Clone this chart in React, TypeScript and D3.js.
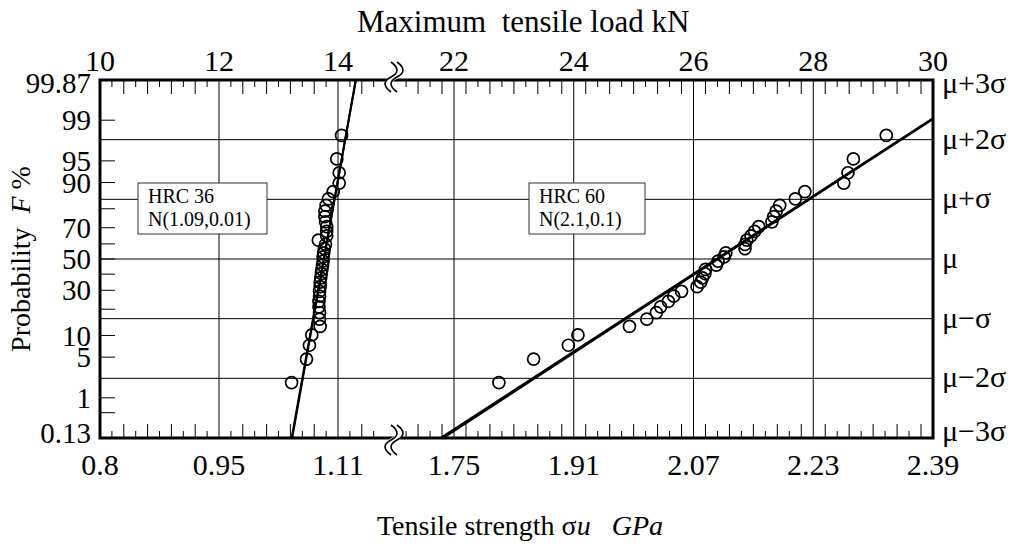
import React from 'react';
import * as d3 from 'd3';

// ---------- data ----------
const topTickValues = [10, 12, 14, 22, 24, 26, 28, 30]; // maximum tensile load, kN
const topTickLabels = ['10', '12', '14', '22', '24', '26', '28', '30'];
const bottomTickLabels = ['0.8', '0.95', '1.11', '1.75', '1.91', '2.07', '2.23', '2.39']; // GPa
const probLabelValues = [99.87, 99, 95, 90, 70, 50, 30, 10, 5, 1, 0.13];
const probLabelText = ['99.87', '99', '95', '90', '70', '50', '30', '10', '5', '1', '0.13'];
const probTickValues = [99, 95, 90, 80, 70, 60, 50, 40, 30, 20, 10, 5, 1, 0.5];
const sigmaLevels = [3, 2, 1, 0, -1, -2, -3];
const sigmaLabels = ['μ+3σ', 'μ+2σ', 'μ+σ', 'μ', 'μ−σ', 'μ−2σ', 'μ−3σ'];

// cumulative probability F % of each ranked specimen
const probabilityF = [1.92, 4.67, 7.42, 10.16, 12.91, 15.66, 18.41, 21.15, 23.9, 26.65, 29.4, 32.14,
  34.89, 37.64, 40.38, 43.13, 45.88, 48.63, 51.37, 54.12, 56.87, 59.62, 62.36, 65.11,
  67.86, 70.6, 73.35, 76.1, 78.85, 81.59, 84.34, 87.09, 89.84, 92.58, 95.33, 98.08];

// maximum tensile load (kN) of HRC 36 specimens
const hrc36Load = [13.22, 13.47, 13.52, 13.56, 13.70, 13.69, 13.69, 13.68, 13.68, 13.69, 13.69, 13.70,
  13.70, 13.71, 13.72, 13.73, 13.74, 13.75, 13.75, 13.76, 13.77, 13.79, 13.67, 13.81,
  13.81, 13.81, 13.79, 13.78, 13.78, 13.80, 13.84, 13.92, 14.02, 14.02, 13.98, 14.06];

// maximum tensile load (kN) of HRC 60 specimens
const hrc60Load = [22.75, 23.33, 23.91, 24.07, 24.93, 25.22, 25.38, 25.45, 25.58, 25.67, 25.80, 26.06,
  26.12, 26.15, 26.19, 26.20, 26.38, 26.41, 26.51, 26.54, 26.86, 26.86, 26.89, 26.96,
  27.02, 27.09, 27.31, 27.34, 27.38, 27.44, 27.70, 27.86, 28.51, 28.58, 28.67, 29.22];

// fitted normal lines (kN): mean, standard deviation
const hrc36FitMean = [13.76, 13.765];
const hrc36FitSd = [0.18, 0.178];
const hrc60FitMean = [26.41, 26.38];
const hrc60FitSd = [1.53, 1.535];

// ---------- helpers ----------
function probit(p: number): number {
  const a = [-3.969683028665376e1, 2.209460984245205e2, -2.759285104469687e2, 1.38357751867269e2, -3.066479806614716e1, 2.506628277459239];
  const b = [-5.447609879822406e1, 1.615858368580409e2, -1.556989798598866e2, 6.680131188771972e1, -1.328068155288572e1];
  const c = [-7.784894002430293e-3, -3.223964580411365e-1, -2.400758277161838, -2.549671010405034, 4.374664141464968, 2.938163982698783];
  const d = [7.784695709041462e-3, 3.224671290700398e-1, 2.445134137142996, 3.754408661907416];
  const pl = 0.02425;
  if (p < pl) {
    const q = Math.sqrt(-2 * Math.log(p));
    return (((((c[0] * q + c[1]) * q + c[2]) * q + c[3]) * q + c[4]) * q + c[5]) / ((((d[0] * q + d[1]) * q + d[2]) * q + d[3]) * q + 1);
  }
  if (p > 1 - pl) {
    const q = Math.sqrt(-2 * Math.log(1 - p));
    return -(((((c[0] * q + c[1]) * q + c[2]) * q + c[3]) * q + c[4]) * q + c[5]) / ((((d[0] * q + d[1]) * q + d[2]) * q + d[3]) * q + 1);
  }
  const q = p - 0.5;
  const r = q * q;
  return (((((a[0] * r + a[1]) * r + a[2]) * r + a[3]) * r + a[4]) * r + a[5]) * q / (((((b[0] * r + b[1]) * r + b[2]) * r + b[3]) * r + b[4]) * r + 1);
}

const W = 1017, H = 548;
const L = 100, R = 933, T = 80, B = 438;
const BREAK_X = 393;
const FONT = '"Liberation Serif", "Times New Roman", serif';

const yScale = d3.scaleLinear().domain([-3, 3]).range([B, T]);
const yOfF = (F: number) => yScale(probit(F / 100));
const xLeft = d3.scaleLinear().domain([10, 14]).range([L, 338]);
const xRight = d3.scaleLinear().domain([22, 30]).range([454, R]);
const xOf = (kN: number) => (kN < 18 ? xLeft(kN) : xRight(kN));

function minorTicks(): { x: number; long: boolean }[] {
  const out: { x: number; long: boolean }[] = [];
  for (let i = 1; i <= 24; i++) {
    const v = 10 + i * 0.2;
    const x = xLeft(v);
    if (x > BREAK_X - 8) break;
    if (i % 10 === 0) continue;
    out.push({ x, long: i % 2 === 0 });
  }
  for (let i = 0; i < 45; i++) {
    const v = 21 + i * 0.2;
    const x = xRight(v);
    if (x < BREAK_X + 10 || x >= R - 1) continue;
    if (i % 10 === 5) continue;
    out.push({ x, long: i % 2 === 0 });
  }
  return out;
}

function fitPath(mu: number, sd: number, scale: d3.ScaleLinear<number, number>) {
  const line = d3.line<number>().x((z) => scale(mu + z * sd)).y((z) => yScale(z));
  return line([-3.2, 3.2]) || '';
}

function BreakMark({ cy }: { cy: number }) {
  const curve = (ox: number) => {
    const x = BREAK_X + ox;
    return `M${x + 1},${cy - 15} Q${x + 13},${cy - 6} ${x + 1},${cy} Q${x - 11},${cy + 6} ${x + 1},${cy + 15}`;
  };
  return (
    <g>
      <path d={curve(0)} fill="none" stroke="#fff" strokeWidth={6} />
      <path d={curve(-3)} fill="none" stroke="#000" strokeWidth={1.6} />
      <path d={curve(3)} fill="none" stroke="#000" strokeWidth={1.6} />
    </g>
  );
}

export default function App() {
  const ticks = minorTicks();
  const gridX = topTickValues.filter((v) => v !== 10 && v !== 30).map(xOf);
  const gridY = [2, 1, 0, -1, -2].map((z) => yScale(z));
  return (
    <svg width={W} height={H} style={{ position: 'absolute', left: 0, top: 0, background: '#fff' }} fontFamily={FONT}>
      <defs>
        <clipPath id="clipL"><rect x={L} y={T} width={BREAK_X - L} height={B - T} /></clipPath>
        <clipPath id="clipR"><rect x={BREAK_X} y={T} width={R - BREAK_X} height={B - T} /></clipPath>
      </defs>
      <rect x={0} y={0} width={W} height={H} fill="#fff" />

      {/* grid */}
      {gridY.map((y, i) => (
        <line key={'gy' + i} x1={L} x2={R} y1={y} y2={y} stroke="#000" strokeWidth={1} />
      ))}
      {gridX.map((x, i) => (
        <line key={'gx' + i} x1={x} x2={x} y1={T} y2={B} stroke="#000" strokeWidth={1} />
      ))}

      {/* minor ticks top & bottom */}
      {ticks.map((t, i) => (
        <g key={'t' + i}>
          <line x1={t.x} x2={t.x} y1={T} y2={T + (t.long ? 14 : 7)} stroke="#000" strokeWidth={1} />
          <line x1={t.x} x2={t.x} y1={B} y2={B - (t.long ? 14 : 7)} stroke="#000" strokeWidth={1} />
        </g>
      ))}
      {/* left probability ticks */}
      {probTickValues.map((p, i) => (
        <line key={'pt' + i} x1={L} x2={L + 15} y1={yOfF(p)} y2={yOfF(p)} stroke="#000" strokeWidth={1} />
      ))}

      {/* legends */}
      <rect x={138} y={183} width={129} height={51} fill="#fff" stroke="#333" strokeWidth={1} />
      <text x={148} y={203} fontSize={20}>HRC 36</text>
      <text x={148} y={226} fontSize={20}>N(1.09,0.01)</text>
      <rect x={529} y={183} width={116} height={51} fill="#fff" stroke="#333" strokeWidth={1} />
      <text x={539} y={203} fontSize={20}>HRC 60</text>
      <text x={539} y={226} fontSize={20}>N(2.1,0.1)</text>

      {/* fitted lines */}
      <g clipPath="url(#clipL)">
        {hrc36FitMean.map((m, i) => (
          <path key={'f36' + i} d={fitPath(m, hrc36FitSd[i], xLeft)} fill="none" stroke="#000" strokeWidth={2} />
        ))}
      </g>
      <g clipPath="url(#clipR)">
        {hrc60FitMean.map((m, i) => (
          <path key={'f60' + i} d={fitPath(m, hrc60FitSd[i], xRight)} fill="none" stroke="#000" strokeWidth={2} />
        ))}
      </g>

      {/* data points */}
      {hrc36Load.map((v, i) => (
        <circle key={'a' + i} cx={xLeft(v)} cy={yOfF(probabilityF[i])} r={6} fill="none" stroke="#000" strokeWidth={1.7} />
      ))}
      {hrc60Load.map((v, i) => (
        <circle key={'b' + i} cx={xRight(v)} cy={yOfF(probabilityF[i])} r={6} fill="none" stroke="#000" strokeWidth={1.7} />
      ))}

      {/* frame */}
      <rect x={L} y={T} width={R - L} height={B - T} fill="none" stroke="#000" strokeWidth={3} />
      <BreakMark cy={T - 3} />
      <BreakMark cy={B + 2} />

      {/* top axis labels */}
      {topTickValues.map((v, i) => (
        <text key={'tl' + i} x={xOf(v)} y={71} fontSize={30} textAnchor="middle">{topTickLabels[i]}</text>
      ))}
      {/* bottom axis labels */}
      {topTickValues.map((v, i) => (
        <text key={'bl' + i} x={xOf(v)} y={475} fontSize={30} textAnchor="middle">{bottomTickLabels[i]}</text>
      ))}
      {/* left labels */}
      {probLabelValues.map((p, i) => (
        <text key={'ll' + i} x={91} y={Math.max(T + 3, Math.min(B - 5, yOfF(p)))} dy="0.35em" fontSize={29} textAnchor="end">{probLabelText[i]}</text>
      ))}
      {/* right sigma labels */}
      {sigmaLevels.map((z, i) => (
        <text key={'rl' + i} x={942} y={Math.max(T + 4, Math.min(B - 6, yScale(z)))} dy="0.3em" fontSize={30}>{sigmaLabels[i]}</text>
      ))}

      {/* axis titles */}
      <text x={357} y={32} fontSize={31} style={{ whiteSpace: 'pre' }}>Maximum  tensile load kN</text>
      <text x={520} y={535} fontSize={28} textAnchor="middle" style={{ whiteSpace: 'pre' }}>
        <tspan>Tensile strength σ</tspan><tspan fontStyle="italic">u</tspan><tspan>   </tspan><tspan fontStyle="italic">GPa</tspan>
      </text>
      <text transform={`translate(30,${(T + B) / 2}) rotate(-90)`} fontSize={28} textAnchor="middle" style={{ whiteSpace: 'pre' }}>
        <tspan>Probability  </tspan><tspan fontStyle="italic">F</tspan><tspan> %</tspan>
      </text>
    </svg>
  );
}
